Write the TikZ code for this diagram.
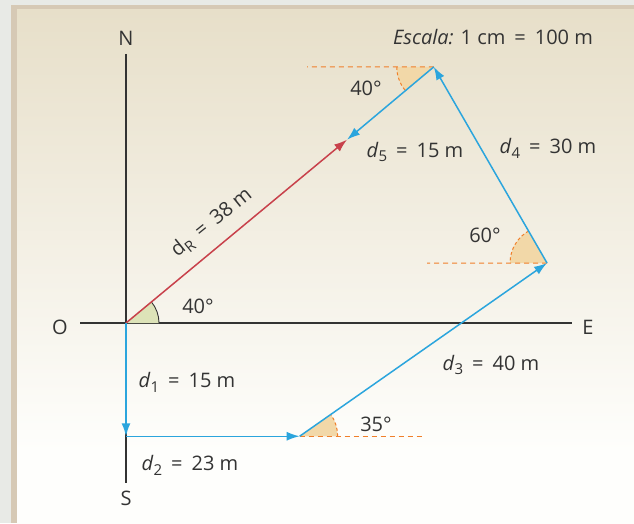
\documentclass[tikz,border=0pt]{standalone}
\usepackage{fontspec}
\setmainfont{Open Sans}
\usetikzlibrary{arrows.meta,calc}
\definecolor{vblue}{HTML}{2BA5DD}
\definecolor{vred}{HTML}{C8414B}
\definecolor{vorange}{HTML}{F07F2A}
\definecolor{vtan}{HTML}{F2D8A8}
\definecolor{vgreen}{HTML}{DDE3B8}
\definecolor{txt}{HTML}{333333}
\definecolor{outer}{HTML}{E8EAE6}
\definecolor{frame}{HTML}{D6C9B5}
\definecolor{paneltop}{HTML}{E7DFC9}
\definecolor{panelbot}{HTML}{FEFEFC}
\pgfdeclareverticalshading{panelshade}{100bp}{color(0bp)=(panelbot); color(32bp)=(panelbot); color(75bp)=(paneltop); color(100bp)=(paneltop)}
\newcommand{\dsub}[2]{\textit{#1}\raisebox{-0.45ex}{\fontsize{15}{16}\selectfont #2}}
\newcommand{\eqs}{\hspace{0.45em}=\hspace{0.45em}}
\begin{document}
\begin{tikzpicture}[x=1pt,y=1pt,
  lbl/.style={text=txt, font=\fontsize{20}{24}\selectfont, inner sep=0pt},
  axis/.style={draw=txt, line width=1.1pt},
  vec/.style={draw=vblue, line width=1.5pt, -{Latex[length=13pt,width=9pt]}},
  rvec/.style={draw=vred, line width=1.5pt, -{Latex[length=13pt,width=9pt]}},
  guide/.style={draw=vorange, line width=1pt, dash pattern=on 5pt off 4pt},
  arcguide/.style={draw=vorange, line width=1pt, dash pattern=on 3pt off 2.5pt},
  wedge/.style={fill=vtan}]
\useasboundingbox (0,0) rectangle (634,523);
% background
\fill[outer] (0,0) rectangle (634,523);
\fill[frame] (11,0) rectangle (634,518);
\shade[shading=panelshade] (17,0) rectangle (634,513);
% points
\coordinate (O) at (126,200);
\coordinate (A) at (126,86.75);
\coordinate (B) at (299.65,86.75);
\coordinate (C) at ($(B)+(35:302)$);
\coordinate (D) at ($(C)+(120:226.5)$);
\coordinate (F) at ($(D)+(220:113.25)$);
\coordinate (Ntop) at (126,469);
\coordinate (Sbot) at (126,40);
\coordinate (Wend) at (80,200);
\coordinate (Eend) at (572,200);
% axes
\draw[axis] (Ntop) -- (Sbot);
\draw[axis] (Wend) -- (Eend);
% angle wedges
\fill[vgreen] (O) -- ++(0:33) arc (0:40:33) -- cycle;
\draw[txt, line width=0.9pt] (O) ++(0:33) arc (0:40:33);
\fill[wedge] (B) -- ++(0:38) arc (0:35:38) -- cycle;
\draw[arcguide] (B) ++(0:38) arc (0:35:38);
\fill[wedge] (C) -- ++(120:37) arc (120:180:37) -- cycle;
\draw[arcguide] (C) ++(120:37) arc (120:180:37);
\fill[wedge] (D) -- ++(180:37) arc (180:220:37) -- cycle;
\draw[arcguide] (D) ++(180:37) arc (180:220:37);
% guide lines
\coordinate (Bg) at (423,86.75);
\coordinate (Cg) at (427,259.97);
\coordinate (Dg) at (307,456.1);
\draw[guide] (B) -- (Bg);
\draw[guide] (C) -- (Cg);
\draw[guide] (D) -- (Dg);
% vectors
\draw[rvec] (O) -- (F);
\draw[vec] (O) -- (A);
\draw[vec] (A) -- (B);
\draw[vec] (B) -- (C);
\draw[vec] (C) -- (D);
\draw[vec] (D) -- (F);
% labels
\node[lbl] (lN) at (126,485) {N};
\node[lbl] (lS) at (126,25) {S};
\node[lbl] (lO) at (60,196) {O};
\node[lbl] (lE) at (588,196) {E};
\node[lbl] (la1) at (198,217) {40°};
\node[lbl] (la2) at (376,99) {35°};
\node[lbl] (la3) at (485,288) {60°};
\node[lbl] (la4) at (366,435) {40°};
\node[lbl] (l1) at (187,141) {\dsub{d}{1}\eqs 15 m};
\node[lbl] (l2) at (190,58) {\dsub{d}{2}\eqs 23 m};
\node[lbl] (l3) at (491,158) {\dsub{d}{3}\eqs 40 m};
\node[lbl] (l4) at (548,375) {\dsub{d}{4}\eqs 30 m};
\node[lbl] (l5) at (415,371) {\dsub{d}{5}\eqs 15 m};
\node[lbl, rotate=39] (lR) at (212,300) {d\raisebox{-0.45ex}{\fontsize{15}{16}\selectfont R}\eqs 38 m};
\node[lbl] (lsc) at (493,486) {\textit{Escala:} 1 cm\eqs 100 m};
\end{tikzpicture}
\end{document}
